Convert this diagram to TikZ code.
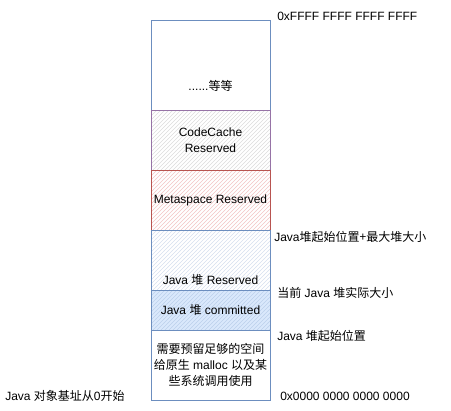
\documentclass[tikz,border=0pt]{standalone}
\usepackage{fontspec}
\setmainfont{Liberation Sans}
\newfontfamily\cjk{Noto Sans CJK SC}
\newcommand{\zh}[1]{{\cjk #1}}
\usetikzlibrary{positioning,patterns}
\definecolor{blueedge}{HTML}{6C8EBF}
\definecolor{purpleedge}{HTML}{9673A6}
\definecolor{rededge}{HTML}{B85450}
\definecolor{bluefill}{HTML}{DAE8FC}
\definecolor{grayhatch}{HTML}{DCDCDC}
\definecolor{pinkhatch}{HTML}{F2C4C4}
\definecolor{bluehatch}{HTML}{D5DFEE}
\definecolor{darkhatch}{HTML}{BCD0EC}

\begin{document}
\begin{tikzpicture} [
    x=0.75pt, y=-0.75pt,
    block/.style={rectangle, draw=blueedge, line width=0.7pt, minimum width=89.25pt,
                  inner sep=0pt, outer sep=0pt, align=center, font=\fontsize{9}{12}\selectfont},
    hatch/.style={preaction={pattern=north east lines, pattern color=#1}},
    lbl/.style={inner sep=0pt, align=center, font=\fontsize{9}{12}\selectfont},
    side/.style={lbl, anchor=west},
    node distance=0pt
    ]
    \useasboundingbox (0,0) rectangle (451,411);
    %Blocks
    \node[block, anchor=north west, minimum height=67.5pt]                      (etc)       at (151,20) {};
    \node[block, draw=purpleedge, hatch=grayhatch, minimum height=45pt]         (codecache) [below=of etc]       {CodeCache\\Reserved};
    \node[block, draw=rededge, hatch=pinkhatch, minimum height=45pt]            (metaspace) [below=of codecache] {Metaspace Reserved};
    \node[block, hatch=bluehatch, minimum height=45pt]                          (heapres)   [below=of metaspace] {};
    \node[block, preaction={fill=bluefill}, hatch=darkhatch, minimum height=30pt] (heapcom) [below=of heapres]   {Java \zh{堆} committed};
    \node[block, minimum height=52.5pt]                                         (native)    [below=of heapcom]   {\zh{需要预留足够的空间}\\\zh{给原生} malloc \zh{以及某}\\\zh{些系统调用使用}};
    %Labels inside
    \node[lbl]       (etctext)    [above=14pt of etc.south]     {......\zh{等等}};
    \node[lbl]       (restext)    [above=3pt of heapres.south]  {Java \zh{堆} Reserved};
    %Labels beside
    \node[side]      (topaddr)    at (277,16)                   {0xFFFF FFFF FFFF FFFF};
    \node[side]      (heapmax)    at (274,237)                  {Java\zh{堆起始位置+最大堆大小}};
    \node[side]      (heapnow)    at (277,293)                  {\zh{当前} Java \zh{堆实际大小}};
    \node[side]      (heapstart)  at (277,336)                  {Java \zh{堆起始位置}};
    \node[side]      (lowaddr)    at (280,396)                  {0x0000 0000 0000 0000};
    \node[side]      (objbase)    at (5,396)                    {Java \zh{对象基址从}0\zh{开始}};
\end{tikzpicture}
\end{document}
